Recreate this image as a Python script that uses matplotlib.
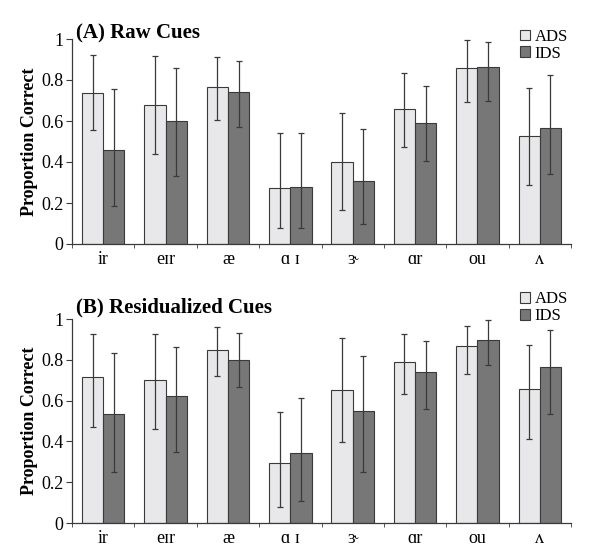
#!/usr/bin/env python
#   two-panel bar chart: proportion correct, ADS vs IDS, per vowel
#
import numpy as np
import matplotlib
matplotlib.use('agg')
import matplotlib.pyplot as plt

plt.rcParams['font.family'] = ['Liberation Serif', 'DejaVu Serif']

vowels = ["ir", "eɪr", "æ", "ɑ ɪ", "ɝ", "ɑr", "ou", "ʌ"]

# (A) raw cues
raw_ads    = [0.737, 0.678, 0.766, 0.273, 0.398, 0.657, 0.857, 0.527]
raw_ads_lo = [0.556, 0.437, 0.606, 0.077, 0.164, 0.472, 0.694, 0.286]
raw_ads_hi = [0.920, 0.917, 0.914, 0.543, 0.640, 0.833, 0.994, 0.762]
raw_ids    = [0.459, 0.598, 0.743, 0.278, 0.306, 0.590, 0.865, 0.564]
raw_ids_lo = [0.187, 0.332, 0.569, 0.077, 0.096, 0.403, 0.700, 0.341]
raw_ids_hi = [0.755, 0.860, 0.891, 0.540, 0.561, 0.772, 0.987, 0.823]

# (B) residualized cues
res_ads    = [0.717, 0.701, 0.850, 0.296, 0.652, 0.791, 0.866, 0.657]
res_ads_lo = [0.471, 0.462, 0.719, 0.077, 0.399, 0.631, 0.729, 0.412]
res_ads_hi = [0.926, 0.926, 0.962, 0.544, 0.908, 0.926, 0.964, 0.874]
res_ids    = [0.533, 0.624, 0.799, 0.345, 0.549, 0.739, 0.895, 0.765]
res_ids_lo = [0.248, 0.350, 0.665, 0.109, 0.248, 0.560, 0.775, 0.533]
res_ids_hi = [0.832, 0.864, 0.933, 0.613, 0.817, 0.892, 0.997, 0.944]

titles = ["(A) Raw Cues", "(B) Residualized Cues"]

ads_color = '#e8e8ea'
ids_color = '#777777'
edge      = '#3a3a3a'


def panel(ax, title, ads, ads_lo, ads_hi, ids, ids_lo, ids_hi, ty=1.04, ly=1.05):
    """ one panel of paired bars with asymmetric error bars
        ty: title y (axes frac), ly: legend top (axes frac)
    """
    x = np.arange(len(vowels))
    w = 0.34
    ads = np.array(ads); ids = np.array(ids)
    ads_err = [ads - np.array(ads_lo), np.array(ads_hi) - ads]
    ids_err = [ids - np.array(ids_lo), np.array(ids_hi) - ids]
    ekw = dict(ecolor=edge, elinewidth=0.9, capsize=2.5, capthick=0.9)
    ax.bar(x - w/2, ads, w, color=ads_color, edgecolor=edge, linewidth=0.8,
           yerr=ads_err, error_kw=ekw, label='ADS')
    ax.bar(x + w/2, ids, w, color=ids_color, edgecolor=edge, linewidth=0.8,
           yerr=ids_err, error_kw=ekw, label='IDS')
    ax.set_xlim(-0.5, len(vowels) - 0.5)
    ax.set_ylim(0, 1)
    ax.set_xticks(x)
    ax.set_xticklabels(vowels, fontsize=13)
    ax.tick_params(axis='x', which='major', length=0, pad=5)
    ax.set_xticks(np.arange(len(vowels) + 1) - 0.5, minor=True)
    ax.tick_params(axis='x', which='minor', length=3, direction='out', color=edge)
    ax.set_yticks([0, 0.2, 0.4, 0.6, 0.8, 1.0])
    ax.set_yticklabels(["0", "0.2", "0.4", "0.6", "0.8", "1"], fontsize=13)
    ax.tick_params(axis='y', length=4, color=edge, pad=2)
    for s in ['top', 'right']:
        ax.spines[s].set_visible(False)
    for s in ['left', 'bottom']:
        ax.spines[s].set_color(edge)
        ax.spines[s].set_linewidth(0.9)
    ax.set_ylabel("Proportion Correct", fontsize=13, fontweight='bold')
    ax.yaxis.set_label_coords(-0.068, 0.5)
    ax.text(0.008, ty, title, transform=ax.transAxes, fontsize=15,
            fontweight='bold', va='center', ha='left')
    ax.legend(loc='upper left', bbox_to_anchor=(0.897, ly), frameon=False,
              fontsize=12, handlelength=0.6, handleheight=0.6,
              handletextpad=0.3, labelspacing=0.05, borderaxespad=0,
              borderpad=0)


fig = plt.figure(figsize=(6.01, 5.59), dpi=100)
ax1 = fig.add_axes([72/601, 1 - 244/559, 499/601, 205/559])
ax2 = fig.add_axes([72/601, 1 - 523/559, 499/601, 204/559])

panel(ax1, titles[0], raw_ads, raw_ads_lo, raw_ads_hi, raw_ids, raw_ids_lo, raw_ids_hi,
      ty=1.027, ly=1.05)
panel(ax2, titles[1], res_ads, res_ads_lo, res_ads_hi, res_ids, res_ids_lo, res_ids_hi,
      ty=1.057, ly=1.135)

plt.savefig("out.png", dpi=100)
